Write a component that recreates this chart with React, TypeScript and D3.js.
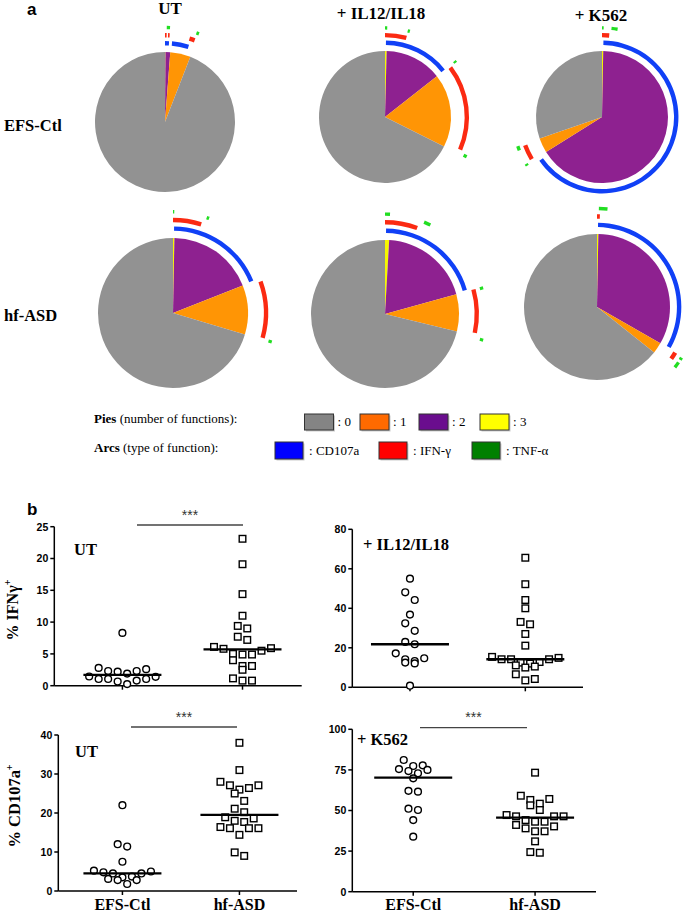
import React from "react";
import * as d3 from "d3";

const SERIF = "'Liberation Serif', 'Times New Roman', serif";
const SANS = "'Liberation Sans', Arial, sans-serif";

// ---------- panel a : SPICE pies ----------
const pieConditions = ["UT", "+ IL12/IL18", "+ K562"];
const pieGroups = ["EFS-Ctl", "hf-ASD"];

// % of cells by number of functions, clockwise from 12 o'clock: 3, 2, 1, 0
const pieShares = [
  [
    [0.1, 1.1, 4.7, 94.1],
    [0.4, 14.0, 18.0, 67.6],
    [0.3, 65.8, 3.6, 30.3],
  ],
  [
    [0.3, 18.7, 10.6, 70.4],
    [0.9, 19.8, 8.1, 71.2],
    [0.3, 33.0, 2.4, 64.3],
  ],
];

// arcs: [start %, end %] of the circle covered by each function
const cd107aArcs = [
  [[[0, 0.8], [1.4, 4.8]], [[0.2, 14.3]], [[0.3, 65.3]]],
  [[[0.2, 18.9]], [[0.2, 20.4]], [[0.2, 33.1]]],
];
const ifngArcs = [
  [[[0, 0.3], [0.55, 0.85], [4.55, 5.55]], [[0, 4.2], [14.7, 31.5]], [[0, 1.4], [66.4, 69.4]]],
  [[[0, 4.9], [19.5, 29.3]], [[0, 5.7], [20.7, 28.3]], [[0, 0.5], [33.4, 34.7]]],
];
const tnfaArcs = [
  [
    [[0.3, 0.85], [5.4, 5.85]],
    [[0, 0.4], [4.1, 4.5], [14.2, 14.6], [31.9, 32.5]],
    [[0, 0.3], [1.7, 2.8], [65.8, 66.2], [68.9, 69.7]],
  ],
  [
    [[0, 0.2], [5.4, 5.8], [29.3, 29.8]],
    [[0, 0.8], [6.4, 7.5], [20.6, 21.1], [28.9, 29.4]],
    [[0.3, 1.7], [33.6, 34.0], [34.5, 35.5]],
  ],
];

const pieLegendLabels = ["0", "1", "2", "3"];
const arcLegendLabels = ["CD107a", "IFN-γ", "TNF-α"];

// ---------- panel b : scatter ----------
const groups = ["EFS-Ctl", "hf-ASD"];

const ifnUtEfs = [8.3, 2.8, 2.3, 2.2, 1.9, 2.3, 2.6, 1.4, 1.05, 0.8, 0.25, 0.65, 1.05, 1.05, 1.45];
const ifnUtAsd = [23.1, 19.1, 14.4, 11.0, 9.0, 9.4, 7.7, 7.2, 6.1, 5.9, 4.9, 4.9, 5.0, 5.5, 5.8, 4.0, 3.1, 3.1, 2.5, 1.15, 0.8, 0.8];
const ifnIlEfs = [55.0, 48.1, 44.2, 36.8, 32.4, 28.6, 23.0, 21.8, 17.2, 14.2, 12.5, 12.1, 13.3, 14.7, 0.8];
const ifnIlAsd = [65.6, 52.2, 44.2, 40.0, 33.1, 31.9, 27.0, 21.1, 14.2, 12.8, 12.0, 14.9, 15.4, 14.2, 11.1, 12.5, 14.2, 10.5, 10.0, 6.6, 3.5, 4.2];
const cdUtEfs = [22.0, 12.0, 11.4, 7.5, 5.0, 4.5, 4.5, 4.8, 5.2, 3.5, 2.8, 1.8, 2.8, 3.1, 3.7];
const cdUtAsd = [38.0, 31.0, 27.1, 26.4, 26.0, 27.1, 28.0, 25.0, 23.1, 21.1, 20.2, 18.6, 17.7, 18.0, 18.9, 16.1, 16.1, 14.4, 16.1, 16.4, 9.0, 9.9];
const cdK562Efs = [81.1, 75.5, 77.8, 74.3, 77.4, 69.8, 72.9, 75.0, 62.1, 61.6, 50.3, 51.1, 44.1, 33.9];
const cdK562Asd = [73.3, 59.1, 56.5, 53.2, 54.2, 57.1, 50.3, 47.2, 46.4, 46.4, 46.4, 43.1, 41.1, 39.0, 40.2, 43.1, 44.1, 37.2, 37.2, 31.0, 24.0, 24.4];

const medians = [
  [1.7, 5.7],
  [21.8, 14.2],
  [4.5, 19.5],
  [70.2, 45.6],
];
const yMax = [25, 80, 40, 100];
const yStep = [5, 20, 10, 25];
const panelLabels = ["UT", "+ IL12/IL18", "UT", "+ K562"];

// ---------- layout ----------
const pieLayout = [
  [{ cx: 165, cy: 122, r: 70 }, { cx: 385, cy: 117, r: 66 }, { cx: 602, cy: 117, r: 66 }],
  [{ cx: 173, cy: 313, r: 75 }, { cx: 385, cy: 314, r: 74 }, { cx: 597, cy: 307, r: 73 }],
];
const pieColors = ["#f6f600", "#8e2190", "#ff9505", "#929292"];
const ringStyle = [
  { k: 1.125, w: 4.4, color: "#1040f6" },
  { k: 1.24, w: 4.4, color: "#fb2a12" },
  { k: 1.35, w: 3.4, color: "#22de22" },
];
const pieSwatch = ["#848484", "#ff6a00", "#6a0d8e", "#ffff00"];
const arcSwatch = ["#0000ff", "#ff0000", "#008000"];

const panels = [
  { x0: 54.3, x1: 301.7, yTop: 526.7, yBot: 685.7, pad: 0.53, align: 0.535 },
  { x0: 352.3, x1: 583, yTop: 529.3, yBot: 687.3, pad: 0.5, align: 0.5 },
  { x0: 58.3, x1: 297, yTop: 735, yBot: 891, pad: 0.52, align: 0.527 },
  { x0: 352.3, x1: 596, yTop: 729.3, yBot: 891.7, pad: 0.5, align: 0.5 },
];
const panelSeries = [
  [ifnUtEfs, ifnUtAsd],
  [ifnIlEfs, ifnIlAsd],
  [cdUtEfs, cdUtAsd],
  [cdK562Efs, cdK562Asd],
];

// GraphPad-like column scatter: rows of close values, spread in a V
function swarm(values: number[], y: (v: number) => number, spacing: number, rowGap: number) {
  const pts = values.map((v) => ({ v, py: y(v) })).sort((a, b) => a.py - b.py);
  const rows: { v: number; py: number }[][] = [];
  let cur: { v: number; py: number }[] = [];
  pts.forEach((p) => {
    if (cur.length && p.py - cur[0].py >= rowGap) {
      rows.push(cur);
      cur = [];
    }
    cur.push(p);
  });
  if (cur.length) rows.push(cur);
  const out: { v: number; dx: number }[] = [];
  rows.forEach((row) => {
    const n = row.length;
    const byValue = [...row].sort((a, b) => b.v - a.v);
    let l = 0;
    let r = n - 1;
    byValue.forEach((p, i) => {
      const idx = i % 2 === 0 ? l++ : r--;
      out.push({ v: p.v, dx: (idx - (n - 1) / 2) * spacing });
    });
  });
  return out;
}

const Pie = ({ row, col }: { row: number; col: number }) => {
  const { cx, cy, r } = pieLayout[row][col];
  const slices = d3.pie<number>().sort(null).value((d) => d)(pieShares[row][col]);
  const sliceArc = d3.arc<d3.PieArcDatum<number>>().innerRadius(0).outerRadius(r);
  const rings = [cd107aArcs, ifngArcs, tnfaArcs];
  return (
    <g transform={`translate(${cx},${cy})`}>
      {slices.map((s, i) => (
        <path key={i} d={sliceArc(s) || ""} fill={pieColors[i]} />
      ))}
      {rings.map((ring, k) => {
        const st = ringStyle[k];
        const rr = r * st.k;
        return ring[row][col].map(([a, b], j) => {
          const d = d3
            .arc()
            .innerRadius(rr - st.w / 2)
            .outerRadius(rr + st.w / 2)
            .startAngle((a / 100) * 2 * Math.PI)
            .endAngle((b / 100) * 2 * Math.PI)({} as any);
          return <path key={`${k}-${j}`} d={d || ""} fill={st.color} />;
        });
      })}
    </g>
  );
};

const Panel = ({ idx }: { idx: number }) => {
  const p = panels[idx];
  const y = d3.scaleLinear().domain([0, yMax[idx]]).range([p.yBot, p.yTop]);
  const x = d3.scalePoint<string>().domain(groups).range([p.x0, p.x1]).padding(p.pad).align(p.align);
  const ticks = d3.range(0, yMax[idx] + 0.001, yStep[idx]);
  return (
    <g>
      <line x1={p.x0} x2={p.x0} y1={p.yTop} y2={p.yBot} stroke="#000" strokeWidth={1.5} />
      <line x1={p.x0} x2={p.x1} y1={p.yBot} y2={p.yBot} stroke="#000" strokeWidth={1.5} />
      {ticks.map((t) => (
        <g key={t}>
          <line x1={p.x0 - 4} x2={p.x0} y1={y(t)} y2={y(t)} stroke="#000" strokeWidth={1.5} />
          <text x={p.x0 - 6} y={y(t) + 3.8} textAnchor="end" fontFamily={SANS} fontWeight="bold" fontSize={10.5}>
            {t}
          </text>
        </g>
      ))}
      {groups.map((g) => (
        <line key={g} x1={x(g)} x2={x(g)} y1={p.yBot} y2={p.yBot + 4} stroke="#000" strokeWidth={1.5} />
      ))}
      {groups.map((g, gi) => {
        const cxg = x(g) as number;
        const pts = swarm(panelSeries[idx][gi], y, 9.5, 8);
        return (
          <g key={g}>
            {pts.map((pt, i) =>
              gi === 0 ? (
                <circle key={i} cx={cxg + pt.dx} cy={y(pt.v)} r={3.4} fill="#fff" stroke="#000" strokeWidth={1.4} />
              ) : (
                <rect key={i} x={cxg + pt.dx - 3.3} y={y(pt.v) - 3.3} width={6.6} height={6.6} fill="#fff" stroke="#000" strokeWidth={1.4} />
              )
            )}
            <line x1={cxg - 39} x2={cxg + 39} y1={y(medians[idx][gi])} y2={y(medians[idx][gi])} stroke="#000" strokeWidth={2.3} />
          </g>
        );
      })}
    </g>
  );
};

export default function App() {
  const legendY1 = 414;
  const legendY2 = 442;
  const pieSwatchX = [304.5, 360, 419, 480];
  const arcSwatchX = [275, 379, 472];
  return (
    <svg
      width={685}
      height={915}
      viewBox="0 0 685 915"
      style={{ position: "absolute", left: 0, top: 0, background: "#fff" }}
    >
      <rect width={685} height={915} fill="#fff" />
      {/* panel a */}
      <text x={27} y={15} fontFamily={SANS} fontWeight="bold" fontSize={17}>a</text>
      {pieConditions.map((c, i) => (
        <text
          key={c}
          x={[170, 381, 601][i]}
          y={[14, 19, 21][i]}
          textAnchor="middle"
          fontFamily={SERIF}
          fontWeight="bold"
          fontSize={17}
        >
          {c}
        </text>
      ))}
      {pieGroups.map((g, i) => (
        <text key={g} x={4} y={[131, 321][i]} fontFamily={SERIF} fontWeight="bold" fontSize={16.5}>
          {g}
        </text>
      ))}
      {[0, 1].map((row) => [0, 1, 2].map((col) => <Pie key={`${row}-${col}`} row={row} col={col} />))}

      {/* legend */}
      <text x={94} y={legendY1 + 9} fontFamily={SERIF} fontSize={13}>
        <tspan fontWeight="bold">Pies</tspan> (number of functions):
      </text>
      {pieLegendLabels.map((l, i) => (
        <g key={l}>
          <rect x={pieSwatchX[i] + 1.5} y={legendY1 + 1.5} width={29} height={16} fill="#aaa" opacity={0.6} />
          <rect x={pieSwatchX[i]} y={legendY1} width={29} height={16} fill={pieSwatch[i]} stroke="#333" strokeWidth={1} />
          <text x={pieSwatchX[i] + 33} y={legendY1 + 12} fontFamily={SERIF} fontSize={13}>: {l}</text>
        </g>
      ))}
      <text x={94} y={legendY2 + 10} fontFamily={SERIF} fontSize={13}>
        <tspan fontWeight="bold">Arcs</tspan> (type of function):
      </text>
      {arcLegendLabels.map((l, i) => (
        <g key={l}>
          <rect x={arcSwatchX[i] + 1.5} y={legendY2 + 1.5} width={28} height={17} fill="#aaa" opacity={0.6} />
          <rect x={arcSwatchX[i]} y={legendY2} width={28} height={17} fill={arcSwatch[i]} stroke="#333" strokeWidth={1} />
          <text x={arcSwatchX[i] + 34} y={legendY2 + 13} fontFamily={SERIF} fontSize={13}>: {l}</text>
        </g>
      ))}

      {/* panel b */}
      <text x={27} y={515} fontFamily={SANS} fontWeight="bold" fontSize={17}>b</text>
      {[0, 1, 2, 3].map((i) => (
        <Panel key={i} idx={i} />
      ))}
      {panelLabels.map((l, i) => (
        <text
          key={i}
          x={[74, 363, 75, 357][i]}
          y={[555, 550, 757, 745][i]}
          fontFamily={SERIF}
          fontWeight="bold"
          fontSize={16.5}
        >
          {l}
        </text>
      ))}
      {/* y titles */}
      <text transform="translate(18,610) rotate(-90)" textAnchor="middle" fontFamily={SERIF} fontWeight="bold" fontSize={16}>
        % IFNγ<tspan fontSize={10} dy={-7}>+</tspan>
      </text>
      <text transform="translate(20,806) rotate(-90)" textAnchor="middle" fontFamily={SERIF} fontWeight="bold" fontSize={16.5}>
        % CD107a<tspan fontSize={10} dy={-7}>+</tspan>
      </text>
      {/* significance bars */}
      {[
        [137, 243, 525, 513],
        [131, 237, 727, 715],
        [420, 527, 727.7, 715],
      ].map(([a, b, ly, ty], i) => (
        <g key={i}>
          <line x1={a} x2={b} y1={ly} y2={ly} stroke="#444" strokeWidth={1.3} />
          <text x={(a + b) / 2} y={ty + 7} textAnchor="middle" fontFamily={SANS} fontSize={14} fill="#333">***</text>
        </g>
      ))}
      {/* category labels */}
      {[2, 3].map((pi) => {
        const p = panels[pi];
        const x = d3.scalePoint<string>().domain(groups).range([p.x0, p.x1]).padding(p.pad).align(p.align);
        return groups.map((g) => (
          <text key={`${pi}-${g}`} x={x(g)} y={910} textAnchor="middle" fontFamily={SERIF} fontWeight="bold" fontSize={16}>
            {g}
          </text>
        ));
      })}
    </svg>
  );
}
